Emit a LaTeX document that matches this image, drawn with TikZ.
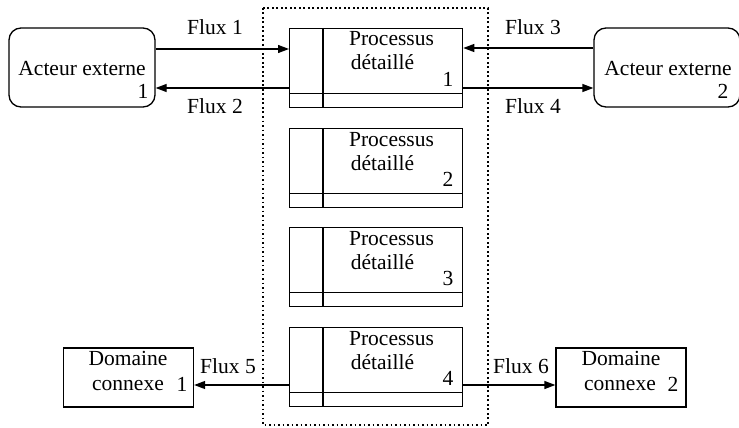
\documentclass[tikz,border=0pt]{standalone}
\usepackage{fontspec}
\setmainfont{Liberation Serif}
\usetikzlibrary{arrows.meta}
\begin{document}
\begin{tikzpicture}[x=1pt,y=-1pt,
  font=\fontsize{21.5}{24}\selectfont,
  box/.style={draw, line width=1.3pt, inner sep=0pt},
  actor/.style={box, rounded corners=12pt, minimum width=146pt, minimum height=79pt},
  proc/.style={box, minimum width=173pt, minimum height=79pt},
  dom/.style={box, minimum width=130pt, minimum height=59pt},
  txt/.style={inner sep=0pt, anchor=base},
  sep/.style={line width=1.3pt},
  arr/.style={line width=1.3pt, -{Triangle[length=11pt,width=8pt]}},
  frame/.style={line width=2.4pt, dash pattern=on 1.8pt off 2.7pt}]
\useasboundingbox (0,0) rectangle (739,428);

% dotted frame
\draw[frame] (263,8) rectangle (488,425);

% actors
\node[actor] (a1) at (82,67.5) {};
\node[txt] (a1t) at (82,75) {Acteur externe};
\node[txt] (a1n) at (143,99) {1};
\node[actor] (a2) at (667,67.5) {};
\node[txt] (a2t) at (668,75) {Acteur externe};
\node[txt] (a2n) at (723,99) {2};

% processes
\foreach \i/\y in {1/28,2/128,3/227,4/327}{
  \node[proc, anchor=north west] (p\i) at (289,\y) {};
  \draw[sep] ([xshift=34pt]p\i.north west) -- ([xshift=34pt]p\i.south west);
  \draw[sep] ([yshift=15pt]p\i.south west) -- ([yshift=15pt]p\i.south east);
  \node[txt] (p\i a) at (391.5,\y+18) {Processus};
  \node[txt] (p\i b) at (382.5,\y+42) {détaillé};
  \node[txt] (p\i n) at (448,\y+58) {\i};
}

% domains
\node[dom] (d1) at (128.5,377.5) {};
\node[txt] (d1a) at (128,365) {Domaine};
\node[txt] (d1b) at (128,390) {connexe};
\node[txt] (d1n) at (182,391) {1};
\node[dom] (d2) at (621,377.5) {};
\node[txt] (d2a) at (621,365) {Domaine};
\node[txt] (d2b) at (620,390) {connexe};
\node[txt] (d2n) at (673,391) {2};

% flows
\draw[arr] (a1.east |- 0,49) -- (p1.west |- 0,49);
\draw[arr] (p1.west |- 0,88) -- (a1.east |- 0,88);
\draw[arr] (a2.west |- 0,48) -- (p1.east |- 0,48);
\draw[arr] (p1.east |- 0,88) -- (a2.west |- 0,88);
\draw[arr] (p4.west |- 0,385) -- (d1.east |- 0,385);
\draw[arr] (p4.east |- 0,385) -- (d2.west |- 0,385);

\node[txt] (f1) at (215,35) {Flux 1};
\node[txt] (f2) at (215,113) {Flux 2};
\node[txt] (f3) at (533,35) {Flux 3};
\node[txt] (f4) at (533,113) {Flux 4};
\node[txt] (f5) at (228,373) {Flux 5};
\node[txt] (f6) at (521,373) {Flux 6};
\end{tikzpicture}
\end{document}
